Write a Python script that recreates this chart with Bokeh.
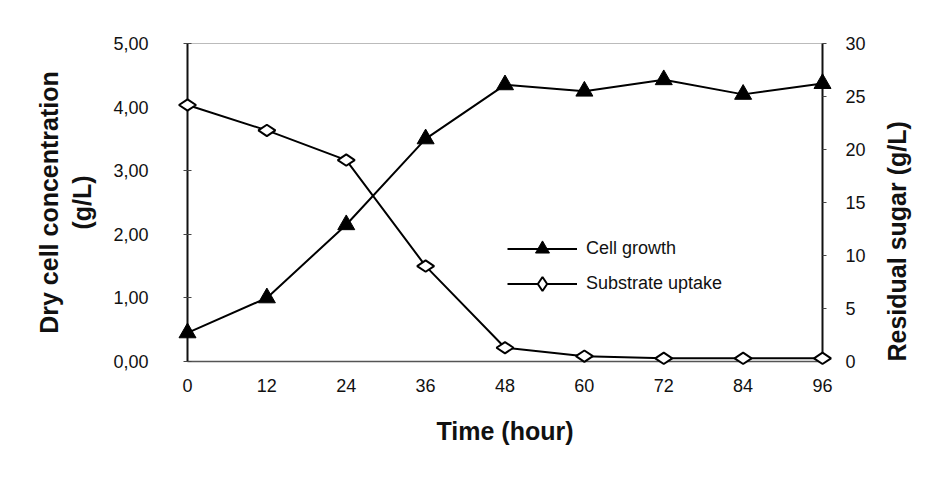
from bokeh.plotting import figure
from bokeh.models import (Range1d, LinearAxis, FixedTicker, Legend, LegendItem)
from bokeh.embed import file_html
from bokeh.resources import INLINE
import math

# ---- data ----
time_h = [0, 12, 24, 36, 48, 60, 72, 84, 96]
cell_growth = [0.45, 1.00, 2.15, 3.50, 4.35, 4.25, 4.43, 4.20, 4.37]      # g/L (left axis)
residual_sugar = [24.2, 21.8, 19.0, 9.0, 1.3, 0.5, 0.3, 0.3, 0.3]         # g/L (right axis)
x_ticks = [0, 12, 24, 36, 48, 60, 72, 84, 96]
left_ticks = [0, 1, 2, 3, 4, 5]
left_tick_labels = ["0,00", "1,00", "2,00", "3,00", "4,00", "5,00"]
right_ticks = [0, 5, 10, 15, 20, 25, 30]

FONT = "Liberation Sans"

p = figure(width=927, height=484, output_backend="svg", toolbar_location=None,
           x_range=Range1d(0, 96), y_range=Range1d(0, 5),
           min_border_left=187, min_border_right=103, min_border_top=43, min_border_bottom=123,
           x_axis_type=None, y_axis_type=None)
p.extra_y_ranges = {"sugar": Range1d(0, 30)}
p.grid.visible = False
p.background_fill_color = "white"
p.border_fill_color = "white"
p.outline_line_color = "#777777"
p.outline_line_dash = "1 1"
p.outline_line_width = 1


def style_axis(ax, label, standoff, label_standoff):
    ax.axis_label = label
    ax.axis_label_text_font = FONT
    ax.axis_label_text_font_size = "25px"
    ax.axis_label_text_font_style = "bold"
    ax.axis_label_text_color = "#111111"
    ax.axis_label_standoff = label_standoff
    ax.minor_tick_line_color = None
    ax.major_label_standoff = standoff
    ax.major_label_text_font = FONT
    ax.major_label_text_font_size = "18px"
    ax.major_label_text_color = "#111111"


# bottom axis
xa = LinearAxis(ticker=FixedTicker(ticks=x_ticks))
style_axis(xa, "Time (hour)", 17, 22)
xa.axis_line_color = "#555555"
xa.axis_line_width = 1.5
xa.major_tick_out = 0
xa.major_tick_in = 0
p.add_layout(xa, "below")

# left axis
ya = LinearAxis(ticker=FixedTicker(ticks=left_ticks))
ya.major_label_overrides = {t: s for t, s in zip(left_ticks, left_tick_labels)}
style_axis(ya, "Dry cell concentration\n(g/L)", 35, 14)
ya.axis_line_color = "#111111"
ya.axis_line_width = 2
ya.major_tick_out = 4
ya.major_tick_in = 4
ya.major_tick_line_color = "#444444"
p.add_layout(ya, "left")

# right axis
ra = LinearAxis(y_range_name="sugar", ticker=FixedTicker(ticks=right_ticks))
style_axis(ra, "Residual sugar (g/L)", 19, 28)
if "axis_label_align" in ra.properties():
    ra.axis_label_orientation = math.pi / 2
    ra.axis_label_align = "start"
else:
    ra.axis_label_orientation = "vertical"
ra.axis_line_color = "#111111"
ra.axis_line_width = 2
ra.major_tick_out = 4
ra.major_tick_in = 0
ra.major_tick_line_color = "#444444"
p.add_layout(ra, "right")

# series
l1 = p.line(time_h, cell_growth, line_color="black", line_width=2)
s1 = p.scatter(time_h, cell_growth, marker="triangle", size=17, fill_color="black",
               line_color="black", level="overlay")
l2 = p.line(time_h, residual_sugar, line_color="black", line_width=2, y_range_name="sugar")
s2 = p.scatter(time_h, residual_sugar, marker="diamond", size=17, angle=math.pi / 2,
               fill_color="white", line_color="black", line_width=2,
               y_range_name="sugar", level="overlay")

legend = Legend(items=[LegendItem(label="Cell growth", renderers=[l1, s1]),
                       LegendItem(label="Substrate uptake", renderers=[l2, s2])],
                location=(320, 60), orientation="vertical",
                glyph_width=70, glyph_height=35, spacing=0, label_standoff=9,
                padding=0, margin=0, border_line_color=None, background_fill_alpha=0,
                label_text_font=FONT, label_text_font_size="18px", label_text_color="#111111")
p.add_layout(legend, "center")

open("out.html", "w").write(file_html(p, INLINE))
